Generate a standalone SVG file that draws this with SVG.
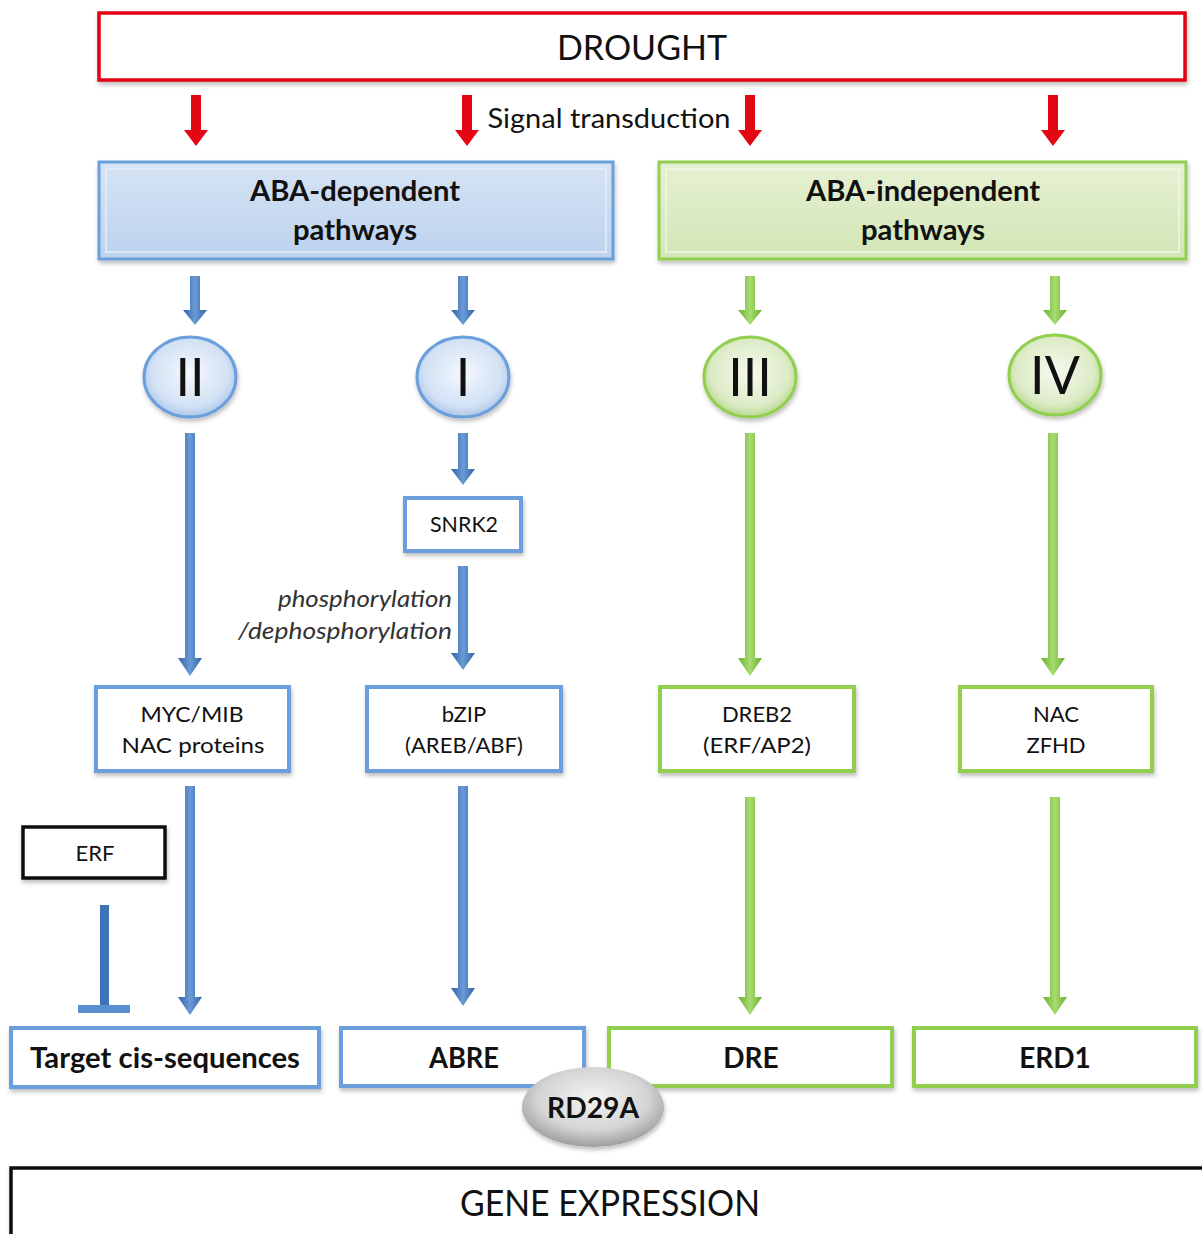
<svg xmlns="http://www.w3.org/2000/svg" width="1202" height="1234" viewBox="0 0 1202 1234">
<defs>
<style>
text{font-family:Lato,"Open Sans","Liberation Sans",sans-serif;fill:#111;text-anchor:middle}
.b{font-weight:bold}
.red{fill:#e30613}
.blueA{fill:url(#gBlueA)}
.greenA{fill:url(#gGreenA)}
.bbox{fill:#fff;stroke:#6b9fdc;stroke-width:4}
.gbox{fill:#fff;stroke:#92cf4f;stroke-width:4}
.shadow{filter:url(#sh)}
.s{font-size:22px}
</style>
<linearGradient id="gBlueA" x1="0" y1="0" x2="1" y2="0">
<stop offset="0" stop-color="#2f64a8"/><stop offset="0.5" stop-color="#6b9ad6"/><stop offset="1" stop-color="#2f64a8"/>
</linearGradient>
<linearGradient id="gGreenA" x1="0" y1="0" x2="1" y2="0">
<stop offset="0" stop-color="#6aae2f"/><stop offset="0.5" stop-color="#a8dc70"/><stop offset="1" stop-color="#6aae2f"/>
</linearGradient>
<linearGradient id="gBlueBox" x1="0" y1="0" x2="0" y2="1">
<stop offset="0" stop-color="#d6e3f4"/><stop offset="1" stop-color="#bcd2ef"/>
</linearGradient>
<linearGradient id="gGreenBox" x1="0" y1="0" x2="0" y2="1">
<stop offset="0" stop-color="#e6f0d3"/><stop offset="1" stop-color="#d3e6b6"/>
</linearGradient>
<radialGradient id="gBlueC" cx="0.5" cy="0.45" r="0.6">
<stop offset="0" stop-color="#f4f8fd"/><stop offset="0.7" stop-color="#d2e1f4"/><stop offset="1" stop-color="#9dbde6"/>
</radialGradient>
<radialGradient id="gGreenC" cx="0.5" cy="0.45" r="0.6">
<stop offset="0" stop-color="#f6faef"/><stop offset="0.7" stop-color="#dcebc6"/><stop offset="1" stop-color="#a9d17a"/>
</radialGradient>
<radialGradient id="gGrey" cx="0.5" cy="0.4" r="0.65">
<stop offset="0" stop-color="#f4f4f4"/><stop offset="0.6" stop-color="#d4d4d4"/><stop offset="1" stop-color="#8f8f8f"/>
</radialGradient>
<filter id="sh" x="-10%" y="-10%" width="120%" height="130%">
<feDropShadow dx="1" dy="3" stdDeviation="2" flood-color="#000" flood-opacity="0.25"/>
</filter>
</defs>
<rect width="1202" height="1234" fill="#fff"/>

<g id="drought">
<rect x="99" y="13" width="1086" height="67" fill="#fff" stroke="#e30613" stroke-width="3.5" class="shadow"/>
<text x="642" y="60" font-size="34">DROUGHT</text>
</g>

<g id="signal-label">
<text x="609" y="128" font-size="26" textLength="243" lengthAdjust="spacingAndGlyphs">Signal transduction</text>
</g>

<g id="aba-dependent">
<rect x="99" y="162" width="514" height="97" fill="url(#gBlueBox)" stroke="#6b9fdc" stroke-width="3" class="shadow"/>
<rect x="106" y="169" width="500" height="83" fill="none" stroke="#e8f0fa" stroke-width="2" opacity="0.7"/>
<text x="355" y="201" font-size="28" class="b" textLength="210" lengthAdjust="spacingAndGlyphs">ABA-dependent</text>
<text x="355" y="240" font-size="28" class="b" textLength="124" lengthAdjust="spacingAndGlyphs">pathways</text>
</g>

<g id="aba-independent">
<rect x="659" y="162" width="527" height="97" fill="url(#gGreenBox)" stroke="#92cf4f" stroke-width="3" class="shadow"/>
<rect x="666" y="169" width="513" height="83" fill="none" stroke="#f2f8e8" stroke-width="2" opacity="0.7"/>
<text x="923" y="201" font-size="28" class="b" textLength="234" lengthAdjust="spacingAndGlyphs">ABA-independent</text>
<text x="923" y="240" font-size="28" class="b" textLength="124" lengthAdjust="spacingAndGlyphs">pathways</text>
</g>

<g id="circle-II">
<ellipse cx="190" cy="377" rx="46" ry="40" fill="url(#gBlueC)" stroke="#6b9fdc" stroke-width="3" class="shadow"/>
<text x="190" y="396" font-size="52">II</text>
</g>
<g id="circle-I">
<ellipse cx="463" cy="377" rx="46" ry="40" fill="url(#gBlueC)" stroke="#6b9fdc" stroke-width="3" class="shadow"/>
<text x="463" y="396" font-size="52">I</text>
</g>
<g id="circle-III">
<ellipse cx="750" cy="377" rx="46" ry="40" fill="url(#gGreenC)" stroke="#92cf4f" stroke-width="3" class="shadow"/>
<text x="750" y="396" font-size="52">III</text>
</g>
<g id="circle-IV">
<ellipse cx="1055" cy="375" rx="46" ry="40" fill="url(#gGreenC)" stroke="#92cf4f" stroke-width="3" class="shadow"/>
<text x="1055" y="394" font-size="52">IV</text>
</g>

<g id="snrk2">
<rect x="405" y="498" width="116" height="53" class="bbox shadow"/>
<text x="464" y="532" font-size="21" textLength="68" lengthAdjust="spacingAndGlyphs">SNRK2</text>
</g>

<g id="phospho-label">
<text x="452" y="607" font-size="23" font-style="italic" style="text-anchor:end;fill:#333" textLength="174" lengthAdjust="spacingAndGlyphs">phosphorylation</text>
<text x="452" y="639" font-size="23" font-style="italic" style="text-anchor:end;fill:#333" textLength="214" lengthAdjust="spacingAndGlyphs">/dephosphorylation</text>
</g>

<g id="myc">
<rect x="96" y="687" width="193" height="84" class="bbox shadow"/>
<text x="192" y="722" class="s" textLength="103" lengthAdjust="spacingAndGlyphs">MYC/MIB</text>
<text x="193" y="753" class="s" textLength="143" lengthAdjust="spacingAndGlyphs">NAC proteins</text>
</g>
<g id="bzip">
<rect x="367" y="687" width="194" height="84" class="bbox shadow"/>
<text x="464" y="722" class="s">bZIP</text>
<text x="464" y="753" class="s" textLength="118" lengthAdjust="spacingAndGlyphs">(AREB/ABF)</text>
</g>
<g id="dreb2">
<rect x="660" y="687" width="194" height="84" class="gbox shadow"/>
<text x="757" y="722" class="s">DREB2</text>
<text x="757" y="753" class="s" textLength="108" lengthAdjust="spacingAndGlyphs">(ERF/AP2)</text>
</g>
<g id="nac">
<rect x="960" y="687" width="192" height="84" class="gbox shadow"/>
<text x="1056" y="722" class="s">NAC</text>
<text x="1056" y="753" class="s">ZFHD</text>
</g>

<g id="erf">
<rect x="23" y="827" width="142" height="51" fill="#fff" stroke="#111" stroke-width="3.5" class="shadow"/>
<text x="95" y="861" font-size="22">ERF</text>
</g>

<g id="target">
<rect x="11" y="1028" width="308" height="59" class="bbox shadow"/>
<text x="165" y="1068" font-size="28" class="b" textLength="270" lengthAdjust="spacingAndGlyphs">Target cis-sequences</text>
</g>
<g id="abre">
<rect x="341" y="1028" width="243" height="58" class="bbox shadow"/>
<text x="464" y="1068" font-size="28" class="b" textLength="70" lengthAdjust="spacingAndGlyphs">ABRE</text>
</g>
<g id="dre">
<rect x="609" y="1028" width="283" height="58" class="gbox shadow"/>
<text x="751" y="1068" font-size="28" class="b">DRE</text>
</g>
<g id="erd1">
<rect x="914" y="1028" width="282" height="58" class="gbox shadow"/>
<text x="1055" y="1068" font-size="28" class="b">ERD1</text>
</g>

<g id="rd29a">
<ellipse cx="593" cy="1107" rx="71" ry="40" fill="url(#gGrey)" class="shadow"/>
<text x="593" y="1118" font-size="28" class="b" textLength="92" lengthAdjust="spacingAndGlyphs">RD29A</text>
</g>

<g id="gene-expression">
<rect x="11" y="1168" width="1200" height="70" fill="#fff" stroke="#111" stroke-width="3.5" class="shadow"/>
<text x="610" y="1216" font-size="36" textLength="300" lengthAdjust="spacingAndGlyphs">GENE EXPRESSION</text>
</g>

<g id="connectors">
<path class="red" d="M191,95 H201 V130 H208 L196,146 L184,130 H191 Z"/>
<path class="red" d="M462,95 H472 V130 H479 L467,146 L455,130 H462 Z"/>
<path class="red" d="M745,95 H755 V130 H762 L750,146 L738,130 H745 Z"/>
<path class="red" d="M1048,95 H1058 V130 H1065 L1053,146 L1041,130 H1048 Z"/>
<path class="blueA" d="M190,276 H200 V310 H207 L195,325 L183,310 H190 Z"/>
<path class="blueA" d="M458,276 H468 V310 H475 L463,325 L451,310 H458 Z"/>
<path class="greenA" d="M745,276 H755 V310 H762 L750,325 L738,310 H745 Z"/>
<path class="greenA" d="M1050,276 H1060 V310 H1067 L1055,325 L1043,310 H1050 Z"/>
<path class="blueA" d="M185,433 H195 V658 H202 L190,676 L178,658 H185 Z"/>
<path class="blueA" d="M458,433 H468 V469 H475 L463,485 L451,469 H458 Z"/>
<path class="blueA" d="M458,566 H468 V653 H475 L463,670 L451,653 H458 Z"/>
<path class="greenA" d="M745,433 H755 V658 H762 L750,676 L738,658 H745 Z"/>
<path class="greenA" d="M1048,433 H1058 V658 H1065 L1053,676 L1041,658 H1048 Z"/>
<path class="blueA" d="M185,786 H195 V997 H202 L190,1015 L178,997 H185 Z"/>
<path class="blueA" d="M458,786 H468 V988 H475 L463,1006 L451,988 H458 Z"/>
<path class="greenA" d="M745,797 H755 V997 H762 L750,1015 L738,997 H745 Z"/>
<path class="greenA" d="M1050,797 H1060 V997 H1067 L1055,1015 L1043,997 H1050 Z"/>
<rect x="100" y="905" width="9" height="100" fill="#3f73b8"/>
<rect x="78" y="1005" width="52" height="8" fill="#5b8fd0"/>
</g>
</svg>
